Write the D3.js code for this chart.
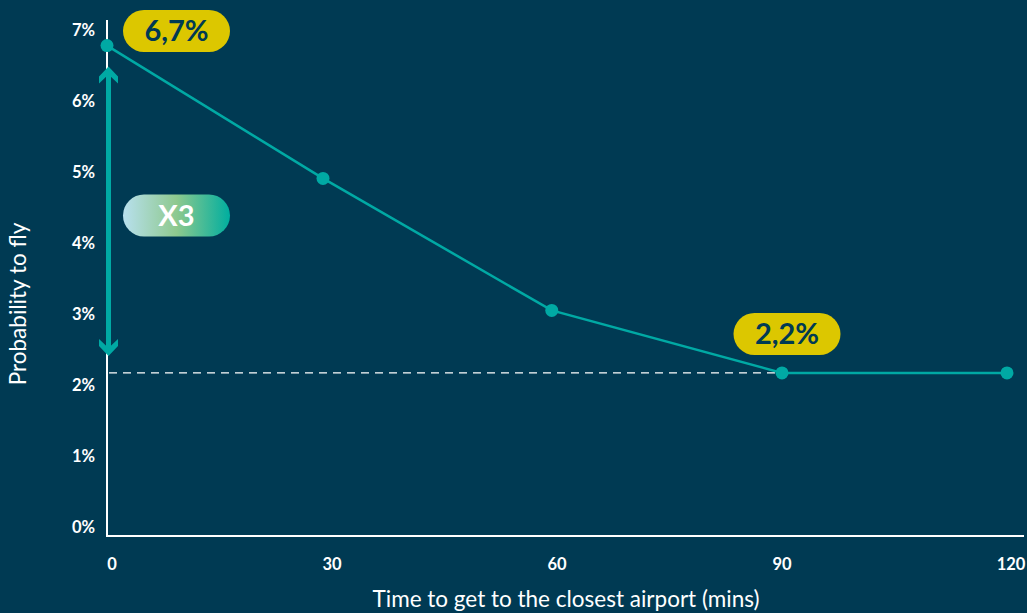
<!DOCTYPE html>
<html>
<head>
<meta charset="utf-8">
<script src="https://cdn.jsdelivr.net/npm/d3@7"></script>
<style>
  html, body { margin: 0; padding: 0; background: #003a53; }
  svg { display: block; }
</style>
</head>
<body>
<svg id="chart" width="1027" height="613"></svg>
<script>
// ---- data ----
const minutes = [0, 28.8, 59.3, 90, 120];
const probability = [6.78, 4.91, 3.05, 2.17, 2.17];
const xTicks = [0, 30, 60, 90, 120];
const yTicks = [0, 1, 2, 3, 4, 5, 6, 7];
const badgeLabels = ["6,7%", "2,2%"];
const multiplierLabel = "X3";
const xTitle = "Time to get to the closest airport (mins)";
const yTitle = "Probability to fly";

// ---- setup ----
const W = 1027, H = 613;
const bg = "#003a53", teal = "#00a9a4", yellow = "#dcc700", white = "#ffffff";
const svg = d3.select("#chart");
svg.append("rect").attr("width", W).attr("height", H).attr("fill", bg);

const x = d3.scaleLinear().domain([0, 120]).range([107, 1007]);
const y = d3.scaleLinear().domain([0, 7]).range([527, 30]);
const axisY = 536;

const font = "Lato, 'Open Sans', sans-serif";

// gradient for X3 badge
const defs = svg.append("defs");
const grad = defs.append("linearGradient").attr("id", "g3").attr("x1", "0%").attr("x2", "100%");
grad.append("stop").attr("offset", "0%").attr("stop-color", "#b8e0ee");
grad.append("stop").attr("offset", "50%").attr("stop-color", "#8ec98e");
grad.append("stop").attr("offset", "100%").attr("stop-color", "#00ae9f");

// axes lines
svg.append("line").attr("x1", x(0)).attr("x2", 1024).attr("y1", axisY).attr("y2", axisY)
  .attr("stroke", white).attr("stroke-width", 2);
svg.append("line").attr("x1", x(0)).attr("x2", x(0)).attr("y1", 20).attr("y2", axisY + 1)
  .attr("stroke", white).attr("stroke-width", 2);

// y tick labels
svg.append("g").selectAll("text").data(yTicks).join("text")
  .attr("x", 95).attr("y", d => y(d)).attr("dy", "0.35em")
  .attr("text-anchor", "end").attr("fill", white)
  .attr("font-family", font).attr("font-weight", 700).attr("font-size", 16.5)
  .text(d => d + "%");

// x tick labels
svg.append("g").selectAll("text").data(xTicks).join("text")
  .attr("x", d => x(d) + (d === 0 ? 5 : d === 120 ? 4 : 0)).attr("y", 564)
  .attr("dy", "0.35em")
  .attr("text-anchor", "middle").attr("fill", white)
  .attr("font-family", font).attr("font-weight", 700).attr("font-size", 16.5)
  .text(d => d);

// axis titles
svg.append("text").attr("x", 566).attr("y", 599).attr("dy", "0.35em")
  .attr("text-anchor", "middle").attr("fill", white)
  .attr("font-family", font).attr("font-weight", 400).attr("font-size", 22.5)
  .text(xTitle);
svg.append("text")
  .attr("transform", `translate(18,${304}) rotate(-90)`)
  .attr("dy", "0.35em").attr("text-anchor", "middle").attr("fill", white)
  .attr("font-family", font).attr("font-weight", 400).attr("font-size", 22.5)
  .text(yTitle);

// dashed reference line
svg.append("line").attr("x1", x(0) + 2).attr("x2", x(minutes[3]))
  .attr("y1", y(probability[3])).attr("y2", y(probability[3]))
  .attr("stroke", white).attr("stroke-width", 1.3).attr("stroke-dasharray", "8,6");

// double arrow
const ax = x(0) + 1.5;
const topTip = y(probability[0]) + 21, botTip = y(probability[3]) - 17;
svg.append("line").attr("x1", ax).attr("x2", ax).attr("y1", topTip + 6).attr("y2", botTip - 6)
  .attr("stroke", teal).attr("stroke-width", 5);
const head = (tip, dir) => {
  // dir = -1 for up (tip at top), +1 for down (tip at bottom)
  const b = -dir;
  const p = d3.path();
  p.moveTo(ax, tip);
  p.lineTo(ax + 9.5, tip + b * 10);
  p.lineTo(ax + 9.5, tip + b * 17);
  p.lineTo(ax, tip + b * 8);
  p.lineTo(ax - 9.5, tip + b * 17);
  p.lineTo(ax - 9.5, tip + b * 10);
  p.closePath();
  return p.toString();
};
svg.append("path").attr("d", head(topTip, -1)).attr("fill", teal);
svg.append("path").attr("d", head(botTip, 1)).attr("fill", teal);

// line
const pts = minutes.map((m, i) => [m, probability[i]]);
svg.append("path").datum(pts)
  .attr("d", d3.line().x(d => x(d[0])).y(d => y(d[1])))
  .attr("fill", "none").attr("stroke", teal).attr("stroke-width", 2.5);
svg.append("g").selectAll("circle").data(pts).join("circle")
  .attr("cx", d => x(d[0])).attr("cy", d => y(d[1])).attr("r", 6.5).attr("fill", teal);

// badges
function badge(cx, cy, label, fill, color) {
  const w = 107, h = 42;
  svg.append("rect").attr("x", cx - w / 2).attr("y", cy - h / 2).attr("width", w).attr("height", h)
    .attr("rx", h / 2).attr("fill", fill);
  svg.append("text").attr("x", cx).attr("y", cy).attr("dy", "0.36em")
    .attr("text-anchor", "middle").attr("fill", color)
    .attr("font-family", font).attr("font-weight", 700).attr("font-size", 29)
    .text(label);
}
badge(176.5, 31, badgeLabels[0], yellow, bg);
badge(787, 334, badgeLabels[1], yellow, bg);
badge(176.5, 215.5, multiplierLabel, "url(#g3)", white);
</script>
</body>
</html>
